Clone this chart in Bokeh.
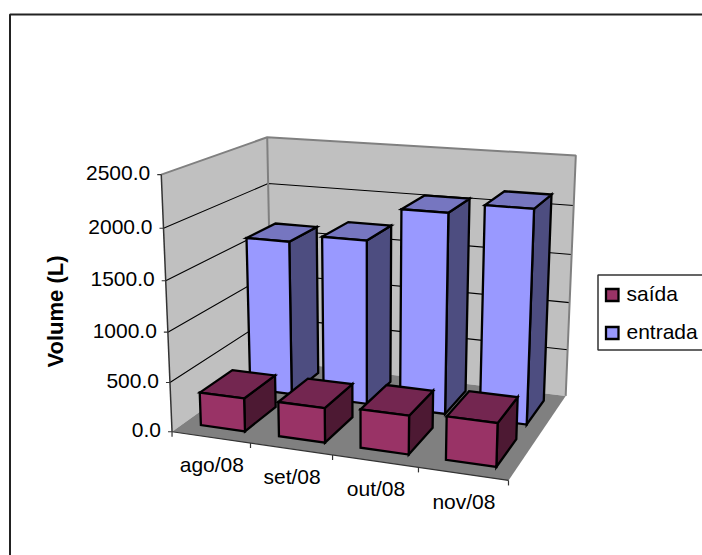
import numpy as np
from bokeh.plotting import figure
from bokeh.embed import file_html
from bokeh.resources import INLINE
from bokeh.core.properties import value

categories = ["ago/08", "set/08", "out/08", "nov/08"]
saida = [335, 345, 380, 420]
entrada = [1620, 1700, 2040, 2140]
y_ticks = [0, 500, 1000, 1500, 2000, 2500]
y_tick_labels = ["0.0", "500.0", "1000.0", "1500.0", "2000.0", "2500.0"]
y_title = "Volume (L)"
Y_MAX = 2500.0
GAP_X = 0.215
GAP_Z = 0.19

# 3D box (category, value, depth) -> page pixels: calibration of the camera
calib = [
    ((0, 0, 0), (171.7, 431.7)), ((0, 500, 0), (170, 381.7)), ((0, 1000, 0), (166.9, 331.7)),
    ((0, 1500, 0), (165, 279.3)), ((0, 2000, 0), (163.3, 227.7)), ((0, 2500, 0), (161.7, 173.3)),
    ((0, 2500, 2), (266, 137.7)), ((0, 2000, 2), (266.7, 183.3)), ((0, 0, 2), (272, 358)),
    ((4, 2500, 2), (576, 155)), ((4, 2000, 2), (573.3, 205.7)), ((4, 1500, 2), (571, 253.3)),
    ((4, 1000, 2), (569.3, 302.3)), ((4, 500, 2), (566.7, 349.3)), ((4, 0, 2), (565.7, 396)),
    ((4, 0, 0), (507.7, 477.3)), ((1, 0, 0), (250, 445)), ((2, 0, 0), (331.7, 455)), ((3, 0, 0), (417.3, 468)),
]
A = []
for (x, y, z), (u, v) in calib:
    X = [x, y / Y_MAX, z, 1]
    A.append(X + [0, 0, 0, 0] + [-u * c for c in X])
    A.append([0, 0, 0, 0] + X + [-v * c for c in X])
P = np.linalg.svd(np.array(A, float))[2][-1].reshape(3, 4)


def pr(x, y, z):
    h = P @ np.array([x, y / Y_MAX, z, 1.0])
    return h[0] / h[2], h[1] / h[2]


p = figure(width=702, height=555, x_range=(0, 702), y_range=(555, 0),
           output_backend="svg", toolbar_location=None, min_border=0,
           outline_line_color=None, background_fill_color="white", border_fill_color="white")
p.axis.visible = False
p.grid.visible = False


def poly(pts, fill, line=None, w=2.3):
    xs, ys = zip(*pts)
    p.patch(list(xs), list(ys), fill_color=fill, line_color=line, line_width=w, line_join="miter")


def seg(pts, color="black", w=1.0):
    xs, ys = zip(*pts)
    p.line(list(xs), list(ys), line_color=color, line_width=w)


FONT = value("Liberation Sans")
TXT = "21px"
c = "black"

# chart frame
seg([(9.5, 555), (9.5, 14), (702, 14)], "#222222", 2)

# walls and floor
poly([pr(0, 0, 0), pr(0, Y_MAX, 0), pr(0, Y_MAX, 2), pr(0, 0, 2)], "#c0c0c0")
poly([pr(0, 0, 2), pr(0, Y_MAX, 2), pr(4, Y_MAX, 2), pr(4, 0, 2)], "#c0c0c0")
for t in y_ticks[1:-1]:
    seg([pr(0, t, 0), pr(0, t, 2), pr(4, t, 2)], "black", 1.1)
seg([pr(0, Y_MAX, 0), pr(0, Y_MAX, 2), pr(4, Y_MAX, 2), pr(4, 0, 2)], "#808080", 2)
seg([pr(0, Y_MAX, 2), pr(0, 0, 2)], "#808080", 2)
poly([pr(0, 0, 0), pr(0, 0, 2), pr(4, 0, 2), pr(4, 0, 0)], "#808080")


def bar(i, row, val, front, top, side):
    x0, x1 = i + GAP_X, i + 1 - GAP_X
    z0, z1 = row + GAP_Z, row + 1 - GAP_Z
    poly([pr(x1, 0, z0), pr(x1, val, z0), pr(x1, val, z1), pr(x1, 0, z1)], side, "black")
    poly([pr(x0, val, z0), pr(x0, val, z1), pr(x1, val, z1), pr(x1, val, z0)], top, "black")
    poly([pr(x0, 0, z0), pr(x0, val, z0), pr(x1, val, z0), pr(x1, 0, z0)], front, "black")


for i in reversed(range(len(categories))):
    bar(i, 1, entrada[i], "#9999ff", "#7676c0", "#4d4d80")
for i in reversed(range(len(categories))):
    bar(i, 0.03, saida[i], "#993366", "#732650", "#4d1933")

# value axis
seg([pr(0, 0, 0), pr(0, Y_MAX, 0)], "#333333", 1.5)
for t, lab in zip(y_ticks, y_tick_labels):
    u, v = pr(0, t, 0)
    seg([(u - 4, v), (u, v)], "#333333", 1.2)
    p.text([u - 11], [v - 1.5], text=[lab], text_font=FONT, text_font_size=TXT, text_color=c,
           text_align="right", text_baseline="middle")

# category axis
seg([pr(0, 0, 0), pr(4, 0, 0)], "#333333", 1.2)
for i in range(len(categories) + 1):
    u, v = pr(i, 0, 0)
    seg([(u, v), (u, v + 5)], "#333333", 1.2)
for i, lab in enumerate(categories):
    u, v = pr(i + 0.5, 0, 0)
    p.text([u + 1], [v + 27.5], text=[lab], text_font=FONT, text_font_size=TXT, text_color=c,
           text_align="center", text_baseline="middle")

# axis title
p.text([54.5], [311], text=[y_title], text_font=FONT, text_font_size="22px", text_font_style="bold",
       text_color=c, text_align="center", text_baseline="middle", angle=np.pi / 2)

# legend
seg([(702, 274.5), (597.5, 274.5), (597.5, 349.5), (702, 349.5)], "#333333", 1.5)
for name, col, ky in [("saída", "#993366", 294.5), ("entrada", "#9999ff", 332.5)]:
    xs = [605.5, 605.5, 618, 618]
    ys = [ky - 6, ky + 6, ky + 6, ky - 6]
    p.patch(xs, ys, fill_color=col, line_color="black", line_width=2.3, line_join="miter")
    p.text([626], [ky - 2], text=[name], text_font=FONT, text_font_size=TXT, text_color=c,
           text_align="left", text_baseline="middle")

open("out.html", "w").write(file_html(p, INLINE))
